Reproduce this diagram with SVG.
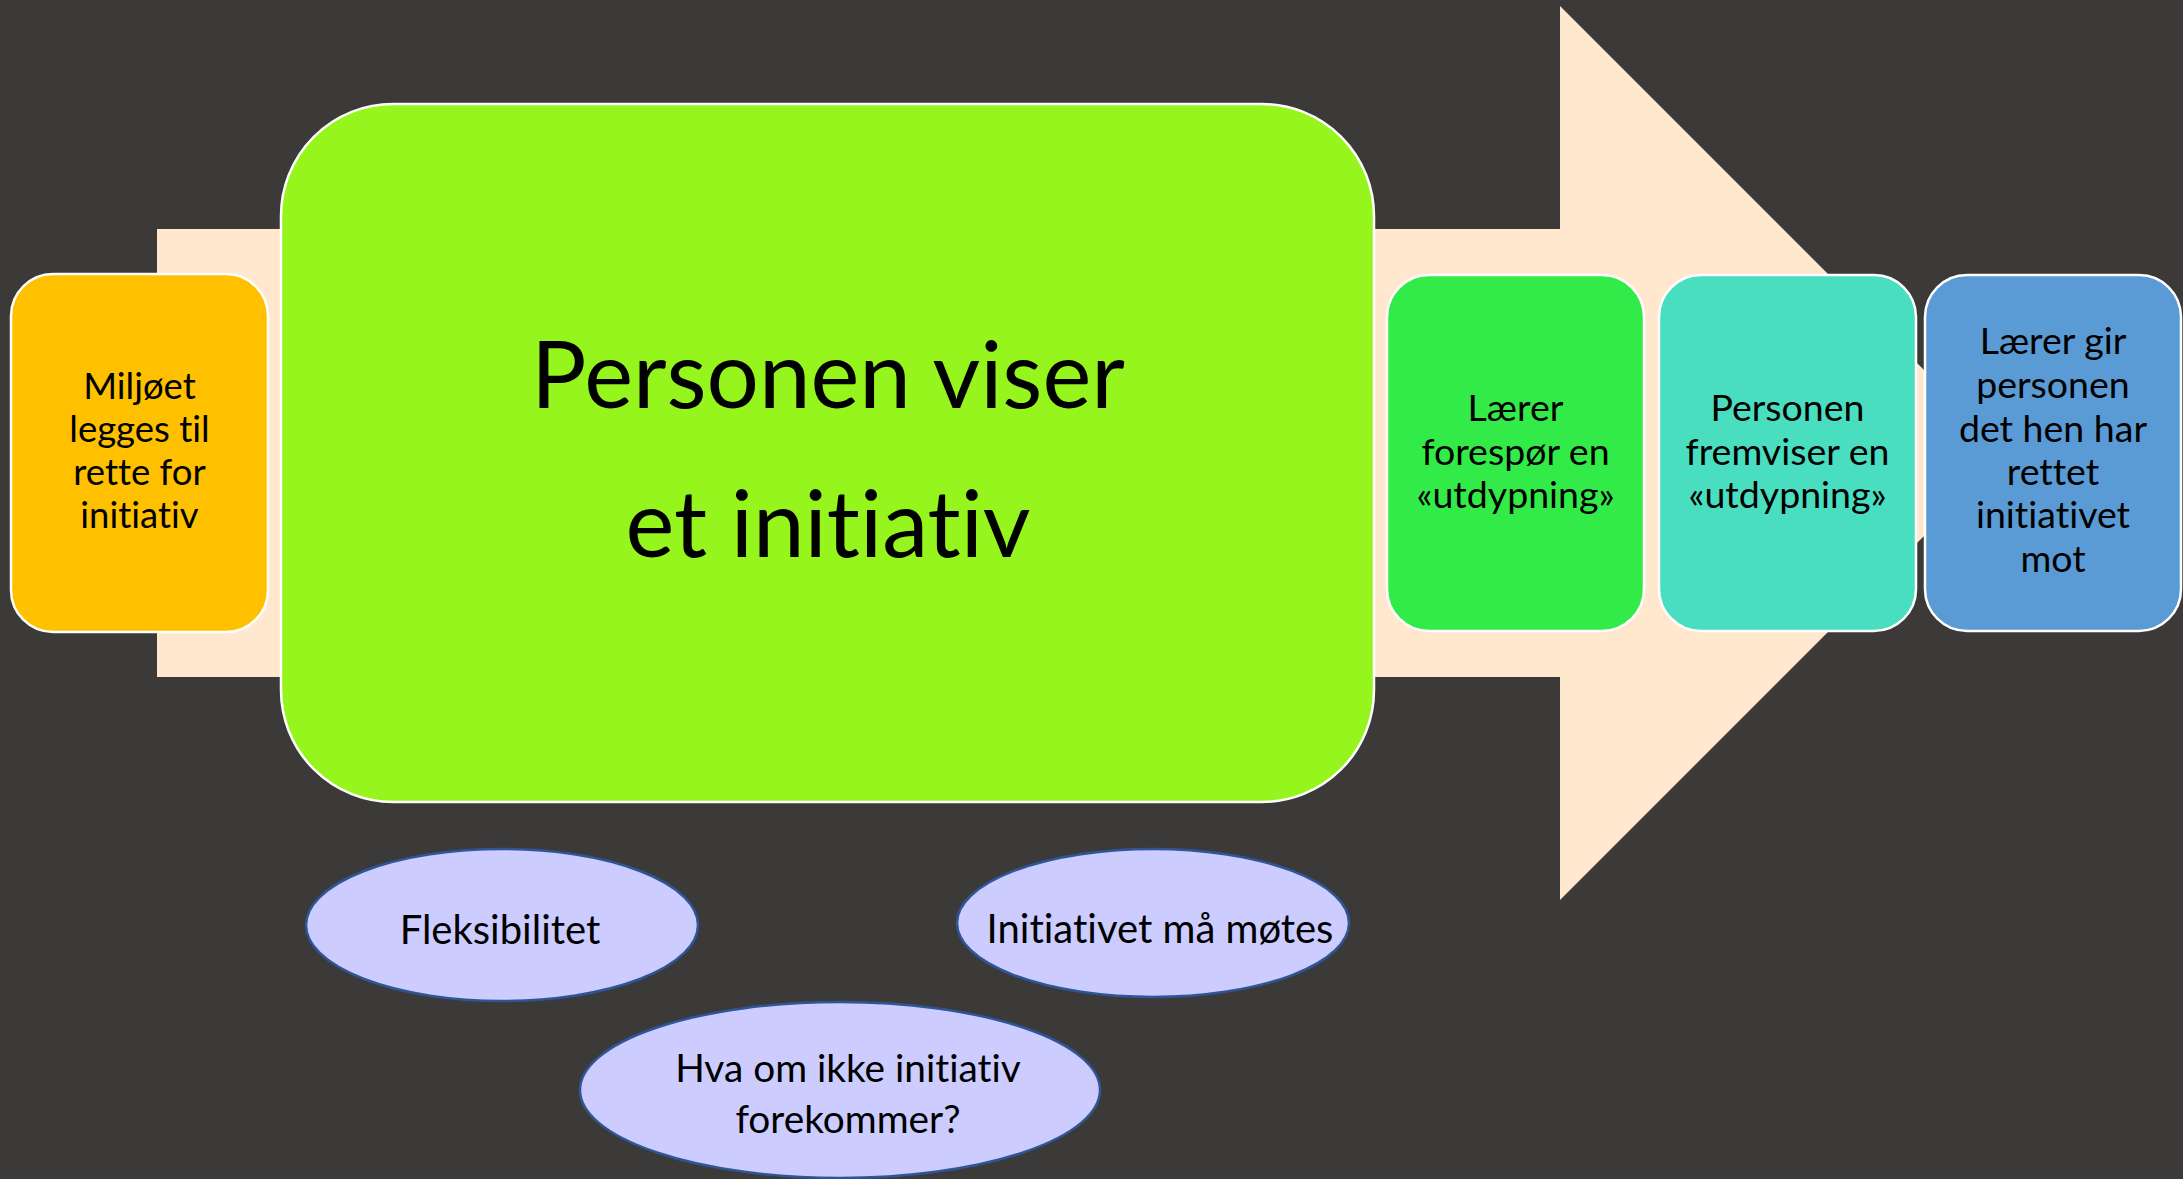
<svg xmlns="http://www.w3.org/2000/svg" width="2183" height="1179" viewBox="0 0 2183 1179">
<style>
.box{stroke:#ffffff;stroke-width:2.5}
.ell{fill:#ccccff;stroke:#2f5597;stroke-width:2.5}
text{font-family:Lato,"Liberation Sans",sans-serif;fill:#000;text-anchor:middle;font-variant-ligatures:none;font-feature-settings:"liga" 0,"dlig" 0}
.s{font-size:36.5px}
.r{font-size:37.5px}
.e{font-size:40px}
.h{font-size:38.8px}
.m{font-size:92.5px}
</style>
<rect x="0" y="0" width="2183" height="1179" fill="#3b3a39"/>
<g id="arrow">
<polygon points="157,229 1560,229 1560,6 2007,453 1560,900 1560,677 157,677" fill="#ffe8ce"/>
</g>
<g id="connectors"></g>
<g id="n-miljo">
<rect class="box" x="11" y="274" width="257" height="358" rx="42" fill="#ffc000"/>
<text class="s" x="139.5" y="399">Miljøet</text>
<text class="s" x="139.5" y="442">legges til</text>
<text class="s" x="139.5" y="485">rette for</text>
<text class="s" x="139.5" y="528">initiativ</text>
</g>
<g id="n-main">
<rect class="box" x="281" y="104" width="1093" height="698" rx="112" fill="#96f51c"/>
<text class="m" x="828" y="408">Personen viser</text>
<text class="m" x="828" y="557">et initiativ</text>
</g>
<g id="n-laerer">
<rect class="box" x="1387" y="275" width="257" height="356" rx="42" fill="#32eb48"/>
<text class="r" x="1515.5" y="421">Lærer</text>
<text class="r" x="1515.5" y="465">forespør en</text>
<text class="r" x="1515.5" y="508">«utdypning»</text>
</g>
<g id="n-personen">
<rect class="box" x="1659" y="275" width="257" height="356" rx="42" fill="#4adec0"/>
<text class="r" x="1787.5" y="421">Personen</text>
<text class="r" x="1787.5" y="465">fremviser en</text>
<text class="r" x="1787.5" y="508">«utdypning»</text>
</g>
<g id="n-gir">
<rect class="box" x="1925" y="275" width="256" height="356" rx="42" fill="#5a9bd5"/>
<text class="r" x="2053" y="354">Lærer gir</text>
<text class="r" x="2053" y="398">personen</text>
<text class="r" x="2053" y="442">det hen har</text>
<text class="r" x="2053" y="485">rettet</text>
<text class="r" x="2053" y="528">initiativet</text>
<text class="r" x="2053" y="572">mot</text>
</g>
<g id="n-fleks">
<ellipse class="ell" cx="502" cy="925" rx="196" ry="76"/>
<text class="e" x="500" y="944">Fleksibilitet</text>
</g>
<g id="n-motes">
<ellipse class="ell" cx="1153" cy="923" rx="196" ry="74"/>
<text class="e" x="1160" y="943">Initiativet må møtes</text>
</g>
<g id="n-hva">
<ellipse class="ell" cx="840" cy="1090" rx="260" ry="88"/>
<text class="h" x="848" y="1082">Hva om ikke initiativ</text>
<text class="h" x="848" y="1133">forekommer?</text>
</g>
</svg>
